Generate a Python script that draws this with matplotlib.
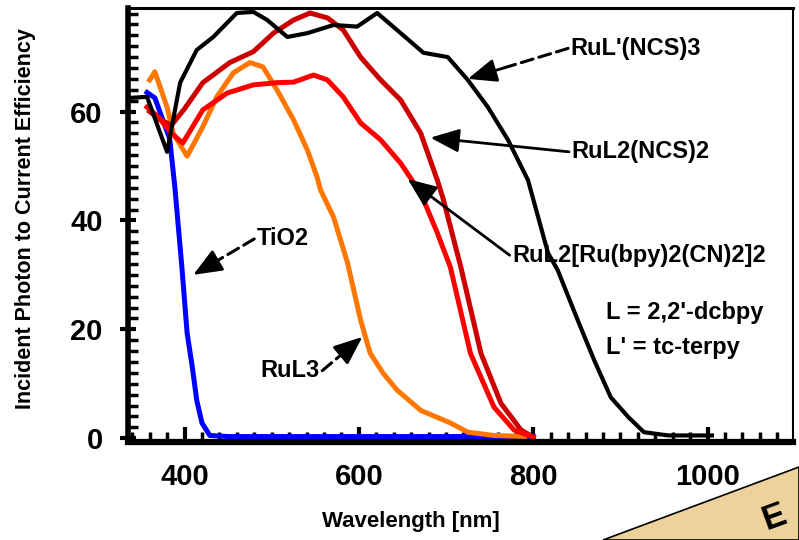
import matplotlib
matplotlib.use("Agg")
import matplotlib.pyplot as plt
from matplotlib.patches import Polygon

# IPCE spectra (wavelength in nm, efficiency in %)
wl_tio2 = [357, 366, 383, 389, 397, 403, 409, 414, 420, 429, 450, 800]
ipce_tio2 = [63.5, 62.5, 55, 46, 31.4, 19.3, 13, 7, 2.8, 0.5, 0.3, 0.3]

wl_rul3 = [360, 366, 380, 387, 403, 421, 437, 456, 475, 490, 506, 525, 541, 552,
           556, 571, 587, 602, 613, 628, 644, 671, 705, 725, 755, 790]
ipce_rul3 = [65.8, 67.3, 60.8, 56, 51.8, 57.2, 62.7, 67.1, 69, 68.2, 64, 58.5, 52.9, 48,
             45.6, 40.6, 32.2, 21.7, 15.6, 11.9, 8.8, 5.1, 2.8, 1.1, 0.5, 0.3]

wl_rul2ncs = [360, 372, 385, 400, 421, 452, 479, 502, 525, 544, 564, 582, 602, 625,
              648, 671, 690, 697, 717, 740, 763, 786, 800]
ipce_rul2ncs = [60, 58.5, 57.5, 60.5, 65.3, 69, 71, 74.4, 76.8, 78.1, 77.2, 75, 70, 65.8,
                62.1, 56, 47.4, 43.8, 31.4, 15.6, 6.4, 1.5, 0.2]

wl_trimer = [357, 370, 385, 398, 421, 449, 479, 506, 525, 548, 564, 582, 602, 625,
             648, 671, 690, 705, 728, 755, 778, 800]
ipce_trimer = [60.8, 59, 56, 54.2, 60.3, 63.4, 64.9, 65.3, 65.4, 66.7, 65.8, 62.7, 57.9, 54.8,
               50.5, 45, 37.7, 31.4, 15.6, 5.7, 1.5, 0.2]

wl_black = [337, 357, 380, 395, 414, 433, 460, 479, 495, 518, 541, 571, 598, 621, 648,
            674, 702, 725, 748, 771, 794, 817, 828, 851, 870, 889, 909, 927, 955, 1005]
ipce_black = [62.5, 62.7, 52.6, 65.3, 71.3, 73.7, 78.1, 78.3, 76.8, 73.7, 74.4, 75.9, 75.6, 78.1, 74.4,
              70.8, 70.0, 65.8, 60.8, 54.8, 47.4, 34, 30.9, 21.7, 14.3, 7.5, 3.9, 1.1, 0.5, 0.5]

x_ticks = [400, 600, 800, 1000]
y_ticks = [0, 20, 40, 60]

FONT = "Liberation Sans"

fig = plt.figure(figsize=(7.99, 5.40), dpi=100)
ax = fig.add_axes([0.160, 0.1815, 0.8325, 0.8035])

ax.plot(wl_tio2, ipce_tio2, color="#0000ff", lw=3.6)
ax.plot(wl_rul3, ipce_rul3, color="#ff7700", lw=3.6)
ax.plot(wl_rul2ncs, ipce_rul2ncs, color="#cc0000", lw=3.6)
ax.plot(wl_trimer, ipce_trimer, color="#ff0000", lw=3.6)
ax.plot(wl_black, ipce_black, color="black", lw=3.0)

ax.set_xlim(335, 1098)
ax.set_ylim(-0.7, 79)
ax.set_xticks(x_ticks)
ax.set_yticks(y_ticks)
ax.set_xticks(range(340, 1100, 20), minor=True)
ax.set_yticks(range(0, 80, 2), minor=True)

for side, w in [("left", 4), ("bottom", 4.5), ("top", 2.2), ("right", 1.5)]:
    ax.spines[side].set_linewidth(w)

ax.tick_params(axis="y", which="major", direction="inout", length=12, width=3, pad=12)
ax.tick_params(axis="x", which="major", direction="in", length=11, width=3, pad=15)
ax.tick_params(which="minor", direction="in", length=7, width=2.5)
for lab in ax.get_xticklabels() + ax.get_yticklabels():
    lab.set_fontfamily(FONT)
    lab.set_fontweight("bold")
    lab.set_fontsize(21)

ax.set_xlabel("Wavelength [nm]", fontsize=16, fontweight="bold", family=FONT)
ax.set_ylabel("Incident Photon to Current Efficiency", fontsize=15.5, fontweight="bold", family=FONT)
ax.xaxis.set_label_coords(0.426, -0.158)
ax.yaxis.set_label_coords(-0.138, 0.515)

txt = dict(fontsize=17, fontweight="bold", family=FONT, va="center")
head = dict(arrowstyle="-|>,head_length=1.1,head_width=0.45", color="black",
            lw=2, mutation_scale=16, shrinkA=0, shrinkB=0)


def label(text, xy_text, tip, dashed=False, ha="left"):
    ax.text(xy_text[0], xy_text[1], text, ha=ha, **txt)
    start = (xy_text[0] - 3, xy_text[1]) if ha == "left" else (xy_text[0] + 3, xy_text[1])
    if dashed:
        mid = (tip[0] + (start[0] - tip[0]) * 0.35, tip[1] + (start[1] - tip[1]) * 0.35)
        ax.annotate("", xy=mid, xytext=start,
                    arrowprops=dict(arrowstyle="-", color="black", lw=2.2,
                                    linestyle=(0, (4, 2)), shrinkA=0, shrinkB=0))
        ax.annotate("", xy=tip, xytext=mid, arrowprops=head)
    else:
        ax.annotate("", xy=tip, xytext=start, arrowprops=head)


label("RuL'(NCS)3", (843, 71.6), (725, 66.0), dashed=True)
label("RuL2(NCS)2", (844, 52.6), (682, 55.2))
label("RuL2[Ru(bpy)2(CN)2]2", (776, 33.6), (656, 47.6))
label("TiO2", (483, 36.6), (410, 30.0), dashed=True)
label("RuL3", (555, 12.4), (604, 18.6), dashed=True, ha="right")

ax.text(883, 23.0, "L = 2,2'-dcbpy", ha="left", **txt)
ax.text(883, 16.6, "L' = tc-terpy", ha="left", **txt)

# decorative slide corner
corner = Polygon([(603 / 799, 0), (1.0, 73 / 540), (1.0, 0)], closed=True,
                 transform=fig.transFigure, facecolor="#eed29c", edgecolor="black", lw=1.2)
fig.patches.append(corner)
fig.text(0.948, 0.078, "E", transform=fig.transFigure, rotation=20, fontsize=25,
         fontweight="bold", family=FONT, ha="left", va="top")

fig.savefig("out.png", dpi=100)
